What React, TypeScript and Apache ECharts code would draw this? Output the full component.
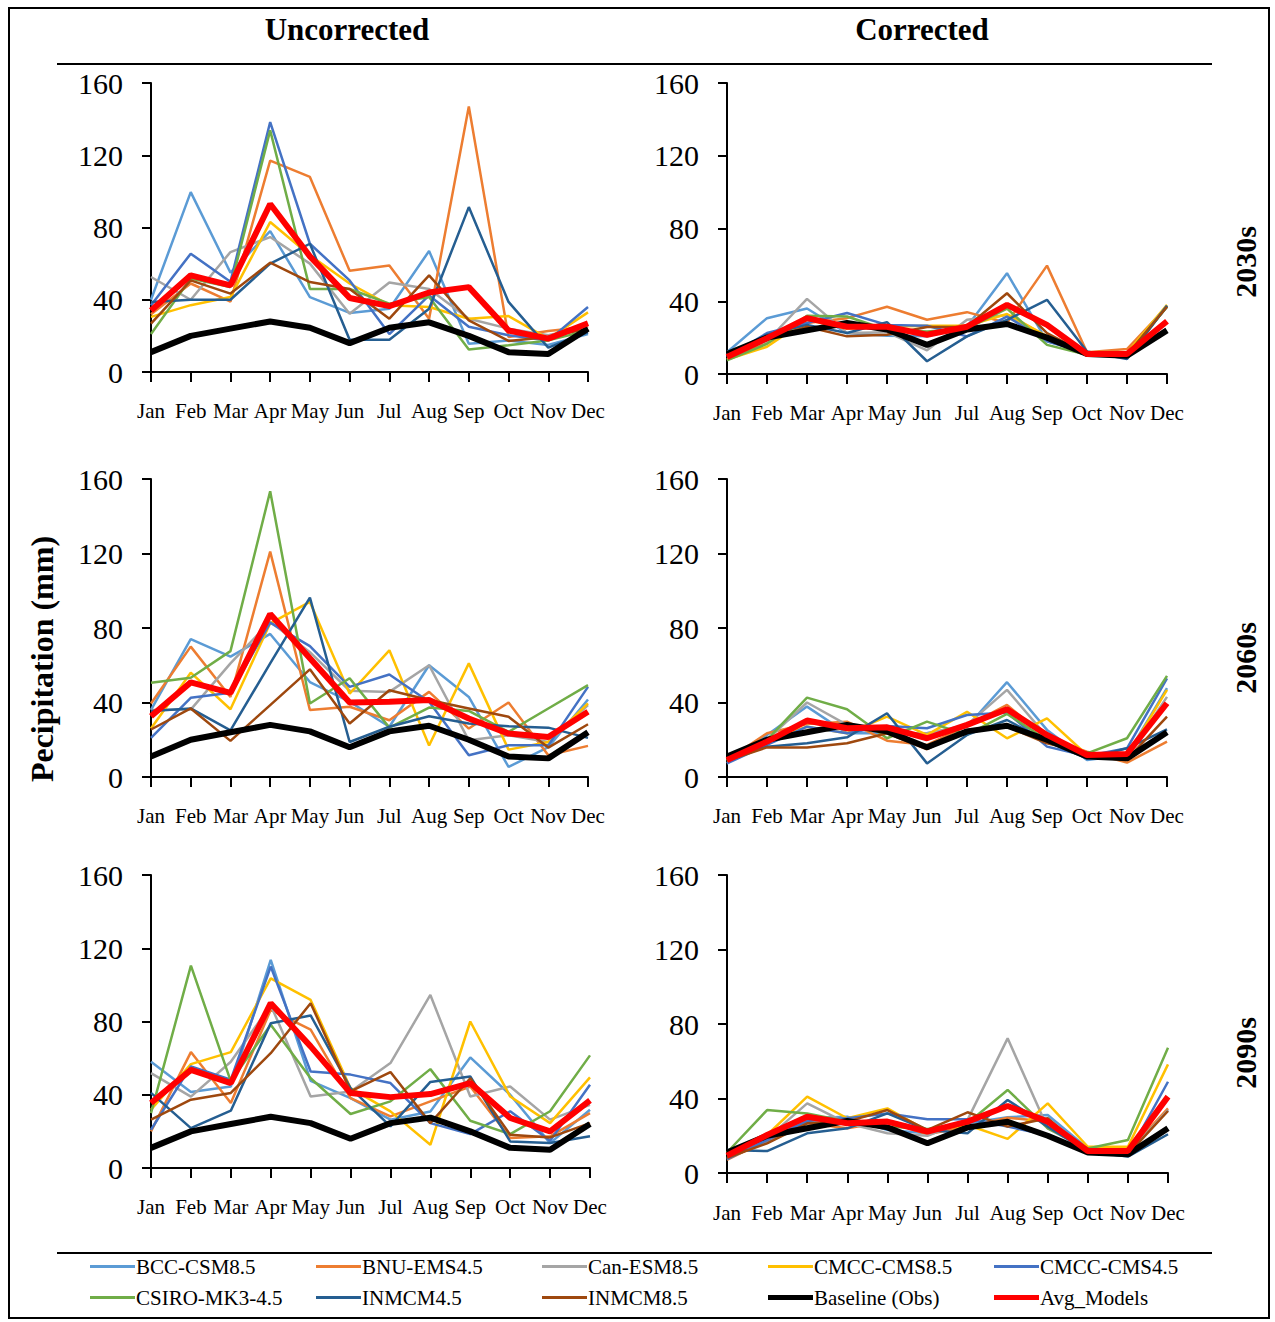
import React, { useEffect, useRef } from "react";
import * as echarts from "echarts";

const months = ["Jan", "Feb", "Mar", "Apr", "May", "Jun", "Jul", "Aug", "Sep", "Oct", "Nov", "Dec"];
const yTicks = [0, 40, 80, 120, 160];

const seriesNames = [
  "BCC-CSM8.5", "BNU-EMS4.5", "Can-ESM8.5", "CMCC-CMS8.5", "CMCC-CMS4.5",
  "CSIRO-MK3-4.5", "INMCM4.5", "INMCM8.5", "Baseline (Obs)", "Avg_Models",
];
const seriesColors = [
  "#5B9BD5", "#ED7D31", "#A5A5A5", "#FFC000", "#4472C4",
  "#70AD47", "#255E91", "#9E480E", "#000000", "#FF0000",
];

const baseline = [11, 20, 24, 28, 24.5, 16, 24.5, 27.5, 20, 11, 10, 24];

// Uncorrected 2030s
const u30_bcc = [40, 99.6, 55, 78, 41.5, 32.7, 35, 67, 15.7, 17.5, 15, 21];
const u30_bnu = [32, 49, 39, 117, 108, 56, 59, 29.5, 147, 19.4, 22.7, 25];
const u30_can = [52.6, 40, 66.4, 74.7, 60, 32.3, 49.5, 46, 29.5, 24, 20.3, 25];
const u30_cm85 = [30.5, 37, 41.5, 83, 64.6, 49, 37, 36, 29.5, 31, 18.5, 33];
const u30_cm45 = [37, 65.5, 50, 138.4, 71, 50.7, 21, 42.4, 25, 20.3, 17.5, 36];
const u30_csiro = [21, 51.7, 47, 133.8, 46, 46, 37.8, 41.5, 12.4, 14.8, 17.5, 23];
const u30_in45 = [38.8, 40, 40, 60, 71, 17.9, 17.9, 35, 91.3, 38.8, 13.5, 22];
const u30_in85 = [26.8, 50.7, 43.4, 60.5, 49.8, 46, 29.5, 53.5, 28.6, 17.2, 19.4, 24];
const u30_avg = [34, 53.5, 48, 93, 64, 41, 36.5, 44, 47, 23, 18.5, 27];

// Corrected 2030s
const c30_bcc = [12, 30.7, 36, 22.5, 21, 20.7, 26, 55.4, 18, 12, 10, 37];
const c30_bnu = [8.2, 17, 28, 30.7, 37, 29.8, 34, 28, 59.6, 12, 13.7, 37];
const c30_can = [10.6, 18, 41.3, 22.5, 23, 13, 29.8, 32.5, 20.7, 11, 10.6, 37];
const c30_cm85 = [7.9, 15, 29.8, 25, 26, 26.5, 26.5, 33, 20.7, 11, 11.5, 38];
const c30_cm45 = [9.3, 22.5, 28, 33.5, 27, 26.5, 20.7, 31.6, 18, 11.5, 9.7, 37.5];
const c30_csiro = [7.5, 16.6, 32, 31.6, 24.3, 23.4, 25, 36, 16, 10.6, 10, 37];
const c30_in45 = [10.6, 21.6, 27, 22.5, 28.5, 7, 20.7, 29.8, 40.8, 12.4, 8.2, 37.5];
const c30_in85 = [10, 18.8, 26, 20.7, 21.6, 25.8, 26, 44.4, 22.5, 11, 10.6, 37];
const c30_avg = [9.3, 19.7, 30.7, 26, 26, 21.6, 26, 38, 27, 11, 11, 29];

// Uncorrected 2060s
const u60_bcc = [36, 74, 64.6, 76.8, 51, 40.4, 27, 60, 43, 5.4, 16, 41.6];
const u60_bnu = [39.5, 70, 43, 121, 36, 37.7, 30.5, 45.7, 26, 40, 11.7, 16.7];
const u60_can = [36, 36.2, 61, 83.4, 67, 46.3, 45.7, 60, 19.7, 22.4, 18.8, 38.6];
const u60_cm85 = [26, 56, 36.4, 82.5, 94, 44.8, 68, 16.9, 61, 14.7, 18.8, 39.5];
const u60_cm45 = [21, 42.5, 45.2, 82.9, 70.3, 48.4, 55, 40.4, 11.7, 17, 17, 48.4];
const u60_csiro = [50.6, 53.3, 67.6, 153.4, 39.5, 53, 26.5, 37.3, 35.5, 24.2, 36.8, 49.3];
const u60_in45 = [35.5, 36.8, 25, 61, 96.3, 18.8, 27, 32.6, 28.7, 27.3, 26.5, 21];
const u60_in85 = [25.5, 36.8, 19.4, 38.6, 57.8, 28.7, 46.6, 41.3, 36.8, 32.3, 15.8, 28.3];
const u60_avg = [32.6, 50.8, 45.2, 87.5, 63.7, 40, 40.4, 41.3, 31.4, 23.3, 21.5, 35];

// Corrected 2060s
const c60_bcc = [7.3, 22.6, 37.8, 23.5, 23.5, 23.5, 27, 50.9, 25.3, 9.1, 11.8, 47.7];
const c60_bnu = [9.1, 23.5, 28.5, 29.7, 19.5, 17.2, 27.4, 38.7, 20.8, 13.6, 7.7, 19];
const c60_can = [8.2, 19.9, 40, 28, 23.5, 23.5, 28, 46.8, 21.7, 11.3, 11, 43];
const c60_cm85 = [9.1, 19.9, 27, 23.5, 32.4, 22.6, 35, 20.8, 31.5, 11.8, 11.3, 46.8];
const c60_cm45 = [7.3, 17.2, 27, 23.5, 27.4, 26.2, 33.3, 34.6, 16.3, 11.3, 15.4, 53];
const c60_csiro = [8.8, 19.9, 42.6, 36.4, 20.8, 29.7, 22.6, 33.9, 19.9, 12.7, 20.8, 54.3];
const c60_in45 = [9.5, 16.3, 18.1, 21.3, 34.2, 7.3, 22.6, 30.6, 19, 10, 15.4, 25.6];
const c60_in85 = [8.8, 15.9, 15.9, 18.1, 23.5, 14.9, 25.3, 27, 18.1, 13.1, 9.5, 32.4];
const c60_avg = [9.1, 19, 30.3, 26.2, 26.7, 20.8, 28, 36.4, 22.6, 11.8, 12.4, 39.6];

// Uncorrected 2090s
const u90_bcc = [58, 41.5, 44.5, 113.6, 47.6, 38.2, 26.4, 30.9, 60.4, 40, 13.6, 31.8];
const u90_bnu = [20, 63.3, 35.5, 86.4, 75.5, 38.2, 28.2, 36.4, 44.5, 16.4, 17.3, 30];
const u90_can = [51.8, 39, 58, 89, 39, 41.8, 57.3, 94.5, 39, 44.5, 26.4, 34.5];
const u90_cm85 = [31.8, 56.7, 63.3, 103.6, 91.8, 43.6, 30.9, 12.7, 80, 39, 24.5, 49.5];
const u90_cm45 = [20.9, 55.5, 48.2, 110, 52.7, 51, 46.4, 24.5, 18.5, 31, 14.9, 45.5];
const u90_csiro = [30, 110.5, 47.3, 78.2, 49, 29.5, 36.4, 54, 25.8, 18.5, 31, 61.5];
const u90_in45 = [41, 21.8, 31.3, 79, 83.3, 43.6, 22.7, 47, 50, 14.5, 13.6, 17.3];
const u90_in85 = [26.4, 37.3, 41, 62.7, 90, 41.8, 52.4, 24.5, 49, 18.2, 16.7, 24.5];
const u90_avg = [35.5, 53.6, 46.4, 90, 66.4, 40.9, 38.7, 40.4, 46.4, 27.3, 20, 36.9];

// Corrected 2090s
const c90_bcc = [7.9, 16.8, 29.4, 30.2, 23.1, 21.3, 26.7, 29.9, 31.1, 13.2, 11.5, 33.8];
const c90_bnu = [7, 17.7, 26.7, 24, 27.6, 20.8, 24.9, 29.7, 27.6, 12.3, 11.5, 34.7];
const c90_can = [9.7, 18.6, 37.4, 26.7, 21.3, 20, 28.5, 72.3, 24, 12.3, 10.6, 33.8];
const c90_cm85 = [9.7, 20.4, 41, 29.4, 34.7, 22.6, 25.8, 18.3, 37.4, 14.1, 14.1, 58.3];
const c90_cm45 = [7.5, 17.7, 27.9, 29.4, 32, 28.8, 28.8, 24.9, 20.4, 11.8, 9.7, 49];
const c90_csiro = [11, 33.8, 32, 27.6, 24.9, 23.6, 26.7, 44.6, 24, 13.2, 17.7, 67.3];
const c90_in45 = [12.3, 11.8, 21.3, 24, 32, 23.1, 21.3, 39.2, 24.9, 11.5, 8.8, 20.8];
const c90_in85 = [8.2, 15.9, 26.7, 27.6, 33.8, 23.1, 32.6, 24.9, 29.4, 11, 10, 33.3];
const c90_avg = [9.3, 20.4, 30.2, 26.7, 27.6, 22.2, 27.6, 36, 27.6, 11.8, 11.8, 41];

const panels = [
  [u30_bcc, u30_bnu, u30_can, u30_cm85, u30_cm45, u30_csiro, u30_in45, u30_in85, baseline, u30_avg],
  [c30_bcc, c30_bnu, c30_can, c30_cm85, c30_cm45, c30_csiro, c30_in45, c30_in85, baseline, c30_avg],
  [u60_bcc, u60_bnu, u60_can, u60_cm85, u60_cm45, u60_csiro, u60_in45, u60_in85, baseline, u60_avg],
  [c60_bcc, c60_bnu, c60_can, c60_cm85, c60_cm45, c60_csiro, c60_in45, c60_in85, baseline, c60_avg],
  [u90_bcc, u90_bnu, u90_can, u90_cm85, u90_cm45, u90_csiro, u90_in45, u90_in85, baseline, u90_avg],
  [c90_bcc, c90_bnu, c90_can, c90_cm85, c90_cm45, c90_csiro, c90_in45, c90_in85, baseline, c90_avg],
];

const gridBoxes = [
  { left: 151, top: 83, width: 437, height: 289 },
  { left: 727, top: 83, width: 440, height: 291 },
  { left: 151, top: 479, width: 437, height: 298 },
  { left: 727, top: 479, width: 440, height: 298 },
  { left: 151, top: 875, width: 439, height: 293 },
  { left: 727, top: 875, width: 441, height: 298 },
];

const FONT = '"Liberation Serif", "Times New Roman", serif';

export default function App() {
  const ref = useRef<HTMLDivElement>(null);

  useEffect(() => {
    if (!ref.current) return;
    const chart = echarts.init(ref.current, undefined, { renderer: "svg" });

    const grid = gridBoxes.map((g) => ({ ...g, containLabel: false }));
    const xAxis = gridBoxes.map((_, i) => ({
      type: "category",
      gridIndex: i,
      data: months,
      boundaryGap: false,
      axisLine: { lineStyle: { color: "#000", width: 2 } },
      axisTick: { show: true, length: 10, alignWithLabel: true, lineStyle: { color: "#000", width: 2 } },
      axisLabel: {
        interval: 0,
        margin: i === 5 ? 29 : 28,
        color: "#000",
        fontFamily: FONT,
        fontSize: 21,
      },
      splitLine: { show: false },
    }));
    const yAxis = gridBoxes.map((_, i) => ({
      type: "value",
      gridIndex: i,
      min: yTicks[0],
      max: yTicks[yTicks.length - 1],
      interval: 40,
      axisLine: { show: true, lineStyle: { color: "#000", width: 2 } },
      axisTick: { show: true, length: 9, lineStyle: { color: "#000", width: 2 } },
      axisLabel: { margin: 28, color: "#000", fontFamily: FONT, fontSize: 30 },
      splitLine: { show: false },
    }));

    const series: any[] = [];
    panels.forEach((panel, p) => {
      panel.forEach((arr, s) => {
        const thick = s >= 8;
        series.push({
          type: "line",
          name: seriesNames[s],
          xAxisIndex: p,
          yAxisIndex: p,
          data: arr,
          symbol: "none",
          showSymbol: false,
          color: seriesColors[s],
          itemStyle: { color: seriesColors[s] },
          lineStyle: { color: seriesColors[s], width: thick ? 6 : 2.5 },
          z: thick ? 3 + s : 2,
        });
      });
    });

    const legends = seriesNames.map((name, k) => {
      const row = Math.floor(k / 5);
      const col = k % 5;
      const thick = k >= 8;
      return {
        orient: "horizontal",
        left: 85 + col * 226,
        top: row === 0 ? 1251 : 1282,
        itemWidth: 45,
        itemHeight: thick ? 5 : 3,
        icon: "rect",
        selectedMode: false,
        itemStyle: { color: seriesColors[k] },
        textStyle: { fontFamily: FONT, fontSize: 21, color: "#000", padding: [0, 0, 0, -4] },
        data: [{ name, icon: "rect", itemStyle: { color: seriesColors[k] } }],
      };
    });

    const option: any = {
      animation: false,
      backgroundColor: "#fff",
      textStyle: { fontFamily: FONT },
      grid,
      xAxis,
      yAxis,
      series,
      legend: legends,
      graphic: [
        {
          type: "rect",
          shape: { x: 9, y: 8, width: 1260, height: 1310 },
          style: { fill: "none", stroke: "#000", lineWidth: 2 },
        },
        {
          type: "line",
          shape: { x1: 57, y1: 64, x2: 1212, y2: 64 },
          style: { stroke: "#000", lineWidth: 2 },
        },
        {
          type: "line",
          shape: { x1: 57, y1: 1253, x2: 1212, y2: 1253 },
          style: { stroke: "#000", lineWidth: 2 },
        },
        {
          type: "text",
          x: 347,
          y: 29,
          style: { text: "Uncorrected", font: `bold 31px ${FONT}`, fill: "#000", align: "center", verticalAlign: "middle" },
        },
        {
          type: "text",
          x: 922,
          y: 29,
          style: { text: "Corrected", font: `bold 31px ${FONT}`, fill: "#000", align: "center", verticalAlign: "middle" },
        },
        {
          type: "text",
          x: 42,
          y: 659,
          rotation: Math.PI / 2,
          style: { text: "Pecipitation (mm)", font: `bold 32px ${FONT}`, fill: "#000", align: "center", verticalAlign: "middle" },
        },
        {
          type: "text",
          x: 1245,
          y: 262,
          rotation: Math.PI / 2,
          style: { text: "2030s", font: `bold 30px ${FONT}`, fill: "#000", align: "center", verticalAlign: "middle" },
        },
        {
          type: "text",
          x: 1245,
          y: 658,
          rotation: Math.PI / 2,
          style: { text: "2060s", font: `bold 30px ${FONT}`, fill: "#000", align: "center", verticalAlign: "middle" },
        },
        {
          type: "text",
          x: 1245,
          y: 1053,
          rotation: Math.PI / 2,
          style: { text: "2090s", font: `bold 30px ${FONT}`, fill: "#000", align: "center", verticalAlign: "middle" },
        },
      ],
    };

    chart.setOption(option);
    return () => chart.dispose();
  }, []);

  return (
    <div
      ref={ref}
      style={{ position: "fixed", left: 0, top: 0, width: 1275, height: 1322, background: "#fff" }}
    />
  );
}
